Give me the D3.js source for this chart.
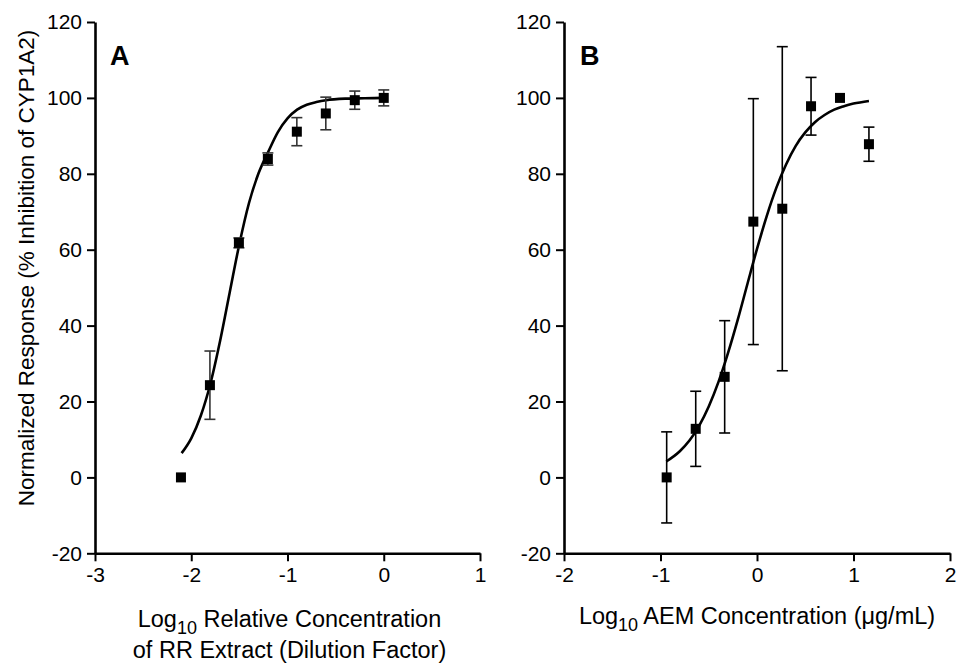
<!DOCTYPE html>
<html>
<head>
<meta charset="utf-8">
<script src="https://cdn.jsdelivr.net/npm/d3@7"></script>
<style>
  body { margin: 0; background: #fff; }
  text { font-family: "Liberation Sans", Arial, sans-serif; fill: #000; }
</style>
</head>
<body>
<svg id="chart"></svg>
<script>
// panel A: RR extract
const aLogConc = [-2.107, -1.806, -1.505, -1.204, -0.903, -0.602, -0.301, 0];
const aResponse = [0, 24.3, 61.8, 83.9, 91.1, 95.9, 99.4, 100];
const aError = [0, 9, 1.3, 1.6, 3.7, 4.3, 2.4, 2.1];
// fitted curve
const aCurveX = [-2.1, -2.0, -1.9, -1.8, -1.7, -1.6, -1.5, -1.4, -1.3, -1.2, -1.1, -1.0, -0.9, -0.8, -0.7, -0.6, -0.4, -0.2, 0];
const aCurveY = [6.4, 10.3, 16.3, 24.8, 36.0, 48.8, 61.5, 72.3, 80.2, 85.8, 91.0, 94.6, 96.9, 98.2, 98.9, 99.4, 99.8, 99.9, 100];

// panel B: AEM
const bLogConc = [-0.936, -0.635, -0.335, -0.038, 0.262, 0.56, 0.86, 1.16];
const bResponse = [0, 12.8, 26.5, 67.4, 70.8, 97.8, 100, 87.8];
const bError = [12, 9.9, 14.8, 32.4, 42.7, 7.6, 0, 4.5];
const bCurveX = [-0.94, -0.8, -0.7, -0.6, -0.5, -0.4, -0.3, -0.2, -0.1, 0, 0.1, 0.2, 0.3, 0.4, 0.5, 0.6, 0.7, 0.8, 0.9, 1.0, 1.16];
const bCurveY = [4.2, 6.9, 9.7, 13.6, 18.7, 25.1, 32.8, 41.5, 50.9, 60.2, 68.8, 76.3, 82.4, 87.3, 90.9, 93.6, 95.5, 96.9, 97.8, 98.5, 99.2];

const yTicks = [-20, 0, 20, 40, 60, 80, 100, 120];
const aXTicks = [-3, -2, -1, 0, 1];
const bXTicks = [-2, -1, 0, 1, 2];

const w = 957, h = 664;
const chart = d3.select('#chart').attr('width', w).attr('height', h);

const yScale = d3.scaleLinear().domain([-20, 120]).range([553.3, 22]);

const drawPanel = (opts) => {
    const xScale = d3.scaleLinear().domain(opts.domain).range(opts.range);
    const g = chart.append('g');

    const yAxis = g.append('g')
        .attr('transform', `translate(${opts.range[0]},0)`)
        .call(d3.axisLeft(yScale).tickValues(yTicks).tickSize(8).tickPadding(5).tickSizeOuter(0));
    const xAxis = g.append('g')
        .attr('transform', `translate(0,${yScale(-20)})`)
        .call(d3.axisBottom(xScale).tickValues(opts.ticks).tickSize(8).tickPadding(6).tickSizeOuter(0)
            .tickFormat(d3.format('d')));

    [yAxis, xAxis].forEach(ax => {
        ax.select('.domain').attr('stroke', '#000').attr('stroke-width', 2.6);
        ax.selectAll('.tick line').attr('stroke', '#000').attr('stroke-width', 2);
        ax.selectAll('.tick text')
            .style('font-family', '"Liberation Sans", Arial, sans-serif')
            .style('font-size', '21px')
            .attr('fill', '#000');
    });
    xAxis.selectAll('.tick text').text(d => d < 0 ? '-' + Math.abs(d) : d);
    yAxis.selectAll('.tick text').text(d => d < 0 ? '-' + Math.abs(d) : d);

    // fitted curve
    const line = d3.line()
        .x(d => xScale(d[0]))
        .y(d => yScale(d[1]))
        .curve(d3.curveMonotoneX);
    g.append('path')
        .datum(d3.zip(opts.curveX, opts.curveY))
        .attr('d', line)
        .attr('fill', 'none')
        .attr('stroke', '#000')
        .attr('stroke-width', 2.6);

    // error bars
    const pts = opts.x.map((x, i) => ({x: x, y: opts.y[i], e: opts.err[i]})).filter(d => d.e > 0);
    const eb = g.append('g').attr('stroke', opts.errColor).attr('stroke-width', 1.6);
    eb.selectAll('line.v').data(pts).join('line')
        .attr('x1', d => xScale(d.x)).attr('x2', d => xScale(d.x))
        .attr('y1', d => yScale(d.y - d.e)).attr('y2', d => yScale(d.y + d.e));
    eb.selectAll('line.top').data(pts).join('line')
        .attr('x1', d => xScale(d.x) - 5.5).attr('x2', d => xScale(d.x) + 5.5)
        .attr('y1', d => yScale(d.y + d.e)).attr('y2', d => yScale(d.y + d.e));
    eb.selectAll('line.bot').data(pts).join('line')
        .attr('x1', d => xScale(d.x) - 5.5).attr('x2', d => xScale(d.x) + 5.5)
        .attr('y1', d => yScale(d.y - d.e)).attr('y2', d => yScale(d.y - d.e));

    // markers
    g.selectAll('rect.pt').data(opts.x.map((x, i) => [x, opts.y[i]])).join('rect')
        .attr('x', d => xScale(d[0]) - 5)
        .attr('y', d => yScale(d[1]) - 5)
        .attr('width', 10).attr('height', 10)
        .attr('fill', '#000');

    // panel letter
    g.append('text')
        .attr('x', opts.range[0] + opts.letterDx)
        .attr('y', 65)
        .style('font-size', '27px')
        .style('font-weight', 'bold')
        .text(opts.letter);

    // x title
    const cx = (opts.range[0] + opts.range[1]) / 2 + opts.titleDx;
    const title = g.append('text')
        .attr('x', cx)
        .attr('y', opts.titleY)
        .attr('text-anchor', 'middle')
        .style('font-size', '23.5px');
    opts.titleLines.forEach((ln, i) => {
        const t = title.append('tspan')
            .attr('x', cx)
            .attr('dy', i === 0 ? 0 : 31);
        if (ln.sub) {
            t.text(ln.pre);
            t.append('tspan').attr('dy', 7).style('font-size', '18px').text(ln.sub);
            t.append('tspan').attr('dy', -7).text(ln.post);
        } else {
            t.text(ln.pre);
        }
    });
}

drawPanel({
    domain: [-3, 1], range: [95, 480], ticks: aXTicks,
    x: aLogConc, y: aResponse, err: aError, errColor: '#333',
    curveX: aCurveX, curveY: aCurveY,
    letter: 'A', letterDx: 15,
    titleDx: 2, titleY: 627,
    titleLines: [{pre: 'Log', sub: '10', post: ' Relative Concentration'}, {pre: 'of RR Extract (Dilution Factor)'}]
});

drawPanel({
    domain: [-2, 2], range: [564, 950], ticks: bXTicks,
    x: bLogConc, y: bResponse, err: bError, errColor: '#000',
    curveX: bCurveX, curveY: bCurveY,
    letter: 'B', letterDx: 16,
    titleDx: 0, titleY: 624,
    titleLines: [{pre: 'Log', sub: '10', post: ' AEM Concentration (\u03bcg/mL)'}]
});

// shared y title
chart.append('text')
    .attr('transform', 'translate(34,268) rotate(-90)')
    .attr('text-anchor', 'middle')
    .style('font-size', '22.5px')
    .text('Normalized Response (% Inhibition of CYP1A2)');
</script>
</body>
</html>
